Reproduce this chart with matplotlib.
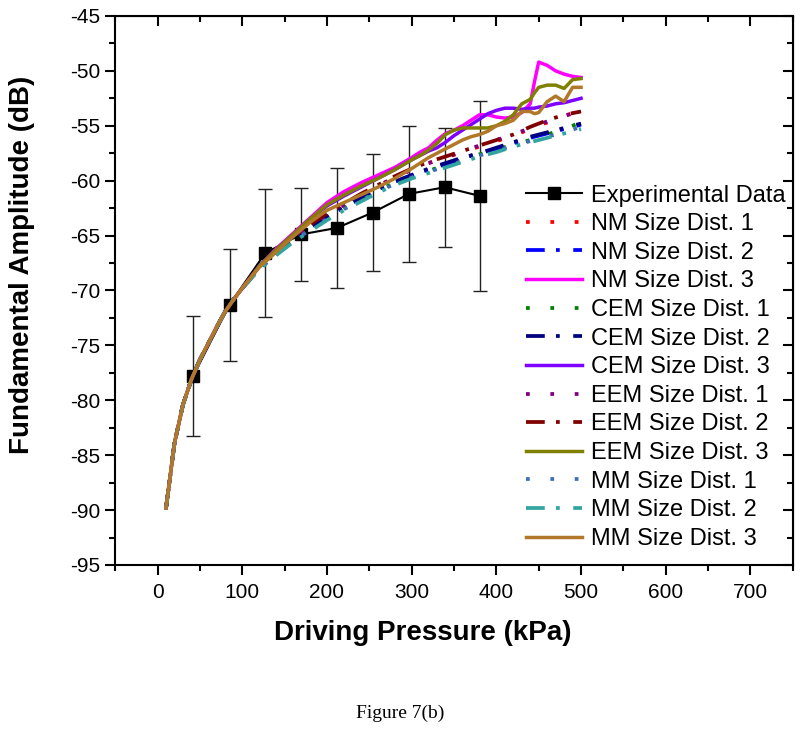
import matplotlib.pyplot as plt
import matplotlib.ticker as tkr

plt.rcParams['font.family'] = ['Liberation Sans', 'DejaVu Sans']
plt.rcParams['axes.unicode_minus'] = False

# experimental points with symmetric error bars
exp_p = [42, 85, 127, 169, 212, 254, 297, 339, 381]
exp_db = [-77.8, -71.3, -66.6, -64.9, -64.3, -62.9, -61.2, -60.6, -61.4]
exp_err = [5.45, 5.1, 5.8, 4.25, 5.45, 5.35, 6.2, 5.4, 8.65]

# all model curves coincide at low pressure
p_low = [10, 20, 30, 40, 50, 60, 70, 80, 90, 100]
db_low = [-89.8, -83.9, -80.4, -78.1, -76.3, -74.8, -73.3, -71.9, -70.8, -69.8]

# size distributions 1 and 2
p_12 = p_low + [120, 140, 160, 180, 200, 220, 240, 260, 280, 300,
                320, 340, 360, 380, 400, 420, 440, 460, 480, 500]
nm1 = db_low + [-67.9, -66.5, -65.2, -64.1, -63.1, -62.2, -61.3, -60.5, -59.7, -59.0,
                -58.4, -57.9, -57.4, -56.9, -56.4, -55.9, -55.3, -54.7, -54.1, -53.6]
nm2 = db_low + [-68.0, -66.6, -65.4, -64.3, -63.3, -62.4, -61.6, -60.8, -60.1, -59.5,
                -59.0, -58.5, -58.0, -57.5, -57.1, -56.6, -56.1, -55.7, -55.3, -54.9]
cem1 = db_low + [-68.0, -66.7, -65.5, -64.4, -63.4, -62.5, -61.7, -60.9, -60.2, -59.6,
                 -59.1, -58.6, -58.1, -57.6, -57.2, -56.7, -56.3, -55.8, -55.3, -54.7]
cem2 = db_low + [-68.0, -66.6, -65.4, -64.3, -63.3, -62.4, -61.6, -60.8, -60.1, -59.5,
                 -58.9, -58.4, -57.9, -57.5, -57.0, -56.5, -56.0, -55.6, -55.2, -54.8]
eem1 = db_low + [-67.9, -66.5, -65.2, -64.1, -63.1, -62.2, -61.3, -60.5, -59.7, -59.0,
                 -58.4, -57.9, -57.3, -56.8, -56.3, -55.8, -55.2, -54.6, -54.1, -53.7]
eem2 = db_low + [-67.9, -66.4, -65.1, -64.0, -63.0, -62.1, -61.2, -60.4, -59.6, -58.9,
                 -58.3, -57.8, -57.3, -56.8, -56.3, -55.8, -55.1, -54.5, -54.0, -53.7]
mm1 = db_low + [-68.1, -66.7, -65.5, -64.5, -63.5, -62.6, -61.8, -61.0, -60.3, -59.7,
                -59.2, -58.7, -58.2, -57.7, -57.3, -56.8, -56.4, -56.0, -55.6, -55.1]
mm2 = db_low + [-68.1, -66.8, -65.6, -64.6, -63.6, -62.7, -61.9, -61.1, -60.4, -59.8,
                -59.3, -58.8, -58.3, -57.8, -57.4, -56.9, -56.5, -56.1, -55.7, -55.3]

# size distribution 3 (wiggly at high pressure)
p_3 = p_low + [120, 140, 160, 180, 200, 220, 240, 260, 280, 300,
               310, 320, 330, 340, 350, 360, 370, 380, 390, 400,
               410, 420, 430, 440, 445, 450, 460, 470, 480, 490, 500]
nm3 = db_low + [-67.8, -66.2, -64.8, -63.4, -62.0, -61.0, -60.2, -59.5, -58.8, -57.9,
                -57.4, -57.0, -56.3, -55.7, -55.4, -55.0, -54.5, -54.0, -54.0, -54.2,
                -54.3, -54.2, -53.8, -53.0, -51.0, -49.2, -49.5, -50.0, -50.3, -50.5, -50.6]
cem3 = db_low + [-67.8, -66.3, -64.9, -63.5, -62.3, -61.4, -60.6, -59.8, -59.0, -58.1,
                 -57.7, -57.3, -57.0, -56.5, -55.9, -55.4, -54.9, -54.4, -53.9, -53.6,
                 -53.4, -53.4, -53.5, -53.4, -53.4, -53.3, -53.2, -53.0, -52.9, -52.7, -52.5]
eem3 = db_low + [-67.8, -66.3, -64.9, -63.5, -62.2, -61.3, -60.5, -59.8, -59.0, -58.1,
                 -57.7, -57.2, -56.6, -55.8, -55.4, -55.2, -55.2, -55.2, -55.2, -55.0,
                 -54.6, -54.0, -53.0, -52.6, -52.0, -51.5, -51.3, -51.3, -51.6, -50.8, -50.7]
mm3 = db_low + [-67.9, -66.5, -65.1, -63.8, -62.7, -62.0, -61.3, -60.6, -59.8, -58.9,
                -58.4, -57.9, -57.5, -57.1, -56.7, -56.3, -56.0, -55.8, -55.5, -55.0,
                -54.8, -54.5, -53.7, -53.7, -53.9, -53.8, -52.8, -52.3, -52.8, -51.5, -51.5]

dot = (0, (1, 5.5))
dashdot = (0, (5, 3, 1, 3.6))

series = [
    ('NM Size Dist. 1', p_12, nm1, '#ff0000', dot),
    ('NM Size Dist. 2', p_12, nm2, '#0000ff', dashdot),
    ('NM Size Dist. 3', p_3, nm3, '#ff00ff', '-'),
    ('CEM Size Dist. 1', p_12, cem1, '#008000', dot),
    ('CEM Size Dist. 2', p_12, cem2, '#000080', dashdot),
    ('CEM Size Dist. 3', p_3, cem3, '#8000ff', '-'),
    ('EEM Size Dist. 1', p_12, eem1, '#800080', dot),
    ('EEM Size Dist. 2', p_12, eem2, '#800000', dashdot),
    ('EEM Size Dist. 3', p_3, eem3, '#808000', '-'),
    ('MM Size Dist. 1', p_12, mm1, '#3f6fb5', dot),
    ('MM Size Dist. 2', p_12, mm2, '#33a5a0', dashdot),
    ('MM Size Dist. 3', p_3, mm3, '#b07828', '-'),
]

fig, ax = plt.subplots(figsize=(8, 7.53), dpi=100)
fig.subplots_adjust(left=0.144, right=0.991, bottom=0.2497, top=0.9788)

ax.errorbar(exp_p, exp_db, yerr=exp_err, fmt='none', ecolor='#222222',
            elinewidth=1, capsize=5, capthick=1, zorder=2)
exp_line, = ax.plot(exp_p, exp_db, color='k', marker='s', markersize=9, lw=1.5,
                    zorder=2, label='Experimental Data')

handles = [exp_line]
for name, p, db, c, ls in series:
    lw = 2.5 if ls == '-' else 2.7
    h, = ax.plot(p, db, color=c, ls=ls, lw=lw, label=name, zorder=3)
    handles.append(h)

ax.set_xlim(-50, 750)
ax.set_ylim(-95, -45)
ax.xaxis.set_major_locator(tkr.FixedLocator([0, 100, 200, 300, 400, 500, 600, 700]))
ax.xaxis.set_minor_locator(tkr.MultipleLocator(50))
ax.yaxis.set_major_locator(tkr.MultipleLocator(5))
ax.yaxis.set_minor_locator(tkr.MultipleLocator(2.5))
ax.tick_params(which='major', direction='out', length=7, width=1.5, labelsize=15)
ax.tick_params(axis='x', which='major', pad=6)
ax.tick_params(axis='y', which='major', pad=4)
ax.tick_params(which='minor', direction='out', length=4, width=1.5)
for s in ax.spines.values():
    s.set_linewidth(1.5)

# mirrored inward ticks on top and right
top = ax.secondary_xaxis('top')
top.xaxis.set_major_locator(tkr.FixedLocator([0, 100, 200, 300, 400, 500, 600, 700]))
top.xaxis.set_minor_locator(tkr.MultipleLocator(50))
top.tick_params(which='major', direction='in', length=7, width=1.5, labeltop=False)
top.tick_params(which='minor', direction='in', length=4, width=1.5)
right = ax.secondary_yaxis('right')
right.yaxis.set_major_locator(tkr.MultipleLocator(5))
right.yaxis.set_minor_locator(tkr.MultipleLocator(2.5))
right.tick_params(which='major', direction='in', length=7, width=1.5, labelright=False)
right.tick_params(which='minor', direction='in', length=4, width=1.5)

ax.set_xlabel('Driving Pressure (kPa)', fontsize=20, fontweight='bold')
ax.set_ylabel('Fundamental Amplitude (dB)', fontsize=20, fontweight='bold')
ax.xaxis.set_label_coords(0.454, -0.100)
ax.yaxis.set_label_coords(-0.118, 0.546)

ax.legend(handles=handles, loc='upper left', bbox_to_anchor=(0.606, 0.693),
          frameon=False, fontsize=17, handlelength=2.4, handletextpad=0.35,
          labelspacing=0.28, borderpad=0, borderaxespad=0)

fig.text(0.5, 1 - 713 / 753, 'Figure 7(b)', ha='center', va='center', fontsize=14,
         family=['Liberation Serif', 'DejaVu Serif'])

plt.savefig('out.png', dpi=100)
